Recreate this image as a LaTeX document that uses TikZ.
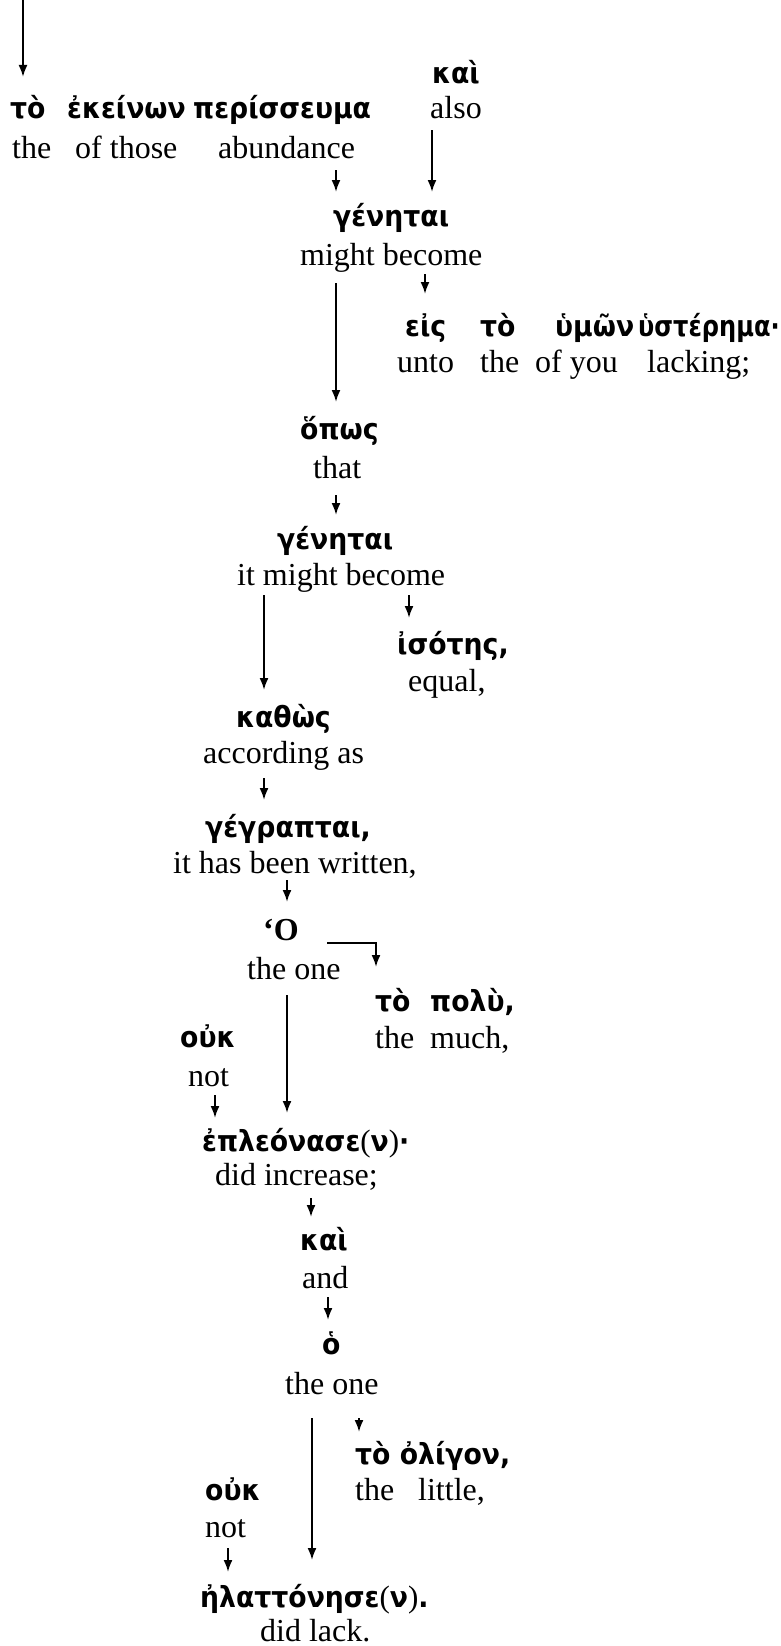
\documentclass[tikz,border=0pt]{standalone}
\usepackage{fontspec}
\setmainfont{Liberation Serif}
\newfontfamily\grfont{DejaVu Sans}[FakeStretch=0.92]
\newfontfamily\grfontn{DejaVu Sans}[FakeStretch=0.83]
\usetikzlibrary{arrows.meta}
\newcommand{\myparen}[1]{\textnormal{\fontsize{31}{36}\selectfont #1}}
\tikzset{
 en/.style={anchor=base west, inner sep=0pt, font=\fontsize{32}{38}\selectfont},
 gr/.style={anchor=base west, inner sep=0pt, font=\grfont\bfseries\fontsize{29}{34}\selectfont},
 grn/.style={anchor=base west, inner sep=0pt, font=\grfontn\bfseries\fontsize{29}{34}\selectfont},
 grO/.style={anchor=base west, inner sep=0pt, font=\bfseries\fontsize{32}{38}\selectfont},
 arr/.style={line width=2pt, -{Latex[length=12pt,width=9pt]}},
}
\begin{document}
\begin{tikzpicture}[x=1pt,y=-1pt]
\useasboundingbox (0,0) rectangle (781,1646);
\fill[white] (0,0) rectangle (781,1646);
\coordinate (top) at (23,0);
\node[gr] (gTo1) at (10,118) {τὸ};
\node[gr] (gEkeinon) at (67,118) {ἐκείνων};
\node[gr] (gPeris) at (193,118) {περίσσευμα};
\node[gr] (gKai1) at (432,83) {καὶ};
\node[en] (eAlso) at (430,118) {also};
\node[en] (eThe1) at (12,158) {the};
\node[en] (eOfThose) at (75,158) {of those};
\node[en] (eAbund) at (218,158) {abundance};
\node[gr] (gGen1) at (333,226) {γένηται};
\node[en] (eMight1) at (300,265) {might become};
\node[gr] (gEis) at (405,336) {εἰς};
\node[gr] (gTo3) at (480,336) {τὸ};
\node[gr] (gHymon) at (555,336) {ὑμῶν};
\node[grn] (gHyster) at (638,336) {ὑστέρημα·};
\node[en] (eUnto) at (397,372) {unto};
\node[en] (eThe2) at (480,372) {the};
\node[en] (eOfYou) at (535,372) {of you};
\node[en] (eLacking) at (647,372) {lacking;};
\node[gr] (gHopos) at (300,439) {ὅπως};
\node[en] (eThat) at (313,478) {that};
\node[gr] (gGen2) at (277,549) {γένηται};
\node[en] (eMight2) at (237,585) {it might become};
\node[gr] (gIsotes) at (397,654) {ἰσότης,};
\node[en] (eEqual) at (408,691) {equal,};
\node[gr] (gKathos) at (236,727) {καθὼς};
\node[en] (eAccording) at (203,763) {according as};
\node[gr] (gGegr) at (205,837) {γέγραπται,};
\node[en] (eWritten) at (173,873) {it has been written,};
\node[grO] (gHO) at (263,940) {‘Ο};
\node[en] (eTheOne1) at (247,979) {the one};
\node[gr] (gTo2) at (375,1011) {τὸ};
\node[gr] (gPolu) at (430,1011) {πολὺ,};
\node[en] (eThe3) at (375,1048) {the};
\node[en] (eMuch) at (430,1048) {much,};
\node[gr] (gOuk1) at (180,1047) {οὐκ};
\node[en] (eNot1) at (188,1086) {not};
\node[gr] (gEpl) at (202,1151) {ἐπλεόνασε\myparen{(}ν\myparen{)}·};
\node[en] (eIncrease) at (215,1185) {did increase;};
\node[gr] (gKai2) at (300,1250) {καὶ};
\node[en] (eAnd) at (302,1288) {and};
\node[gr] (gHo) at (322,1354) {ὁ};
\node[en] (eTheOne2) at (285,1394) {the one};
\node[gr] (gOligon) at (355,1464) {τὸ ὀλίγον,};
\node[en] (eThe4) at (355,1500) {the};
\node[en] (eLittle) at (418,1500) {little,};
\node[gr] (gOuk2) at (205,1500) {οὐκ};
\node[en] (eNot2) at (205,1537) {not};
\node[gr] (gElatt) at (200,1607) {ἠλαττόνησε\myparen{(}ν\myparen{)}.};
\node[en] (eLack) at (260,1641) {did lack.};
\draw[arr] (top) -- ([xshift=13pt,yshift=41pt]gTo1.base west);
\draw[arr] ([xshift=118pt,yshift=-12pt]eAbund.base west) -- ([xshift=3pt,yshift=34pt]gGen1.base west);
\draw[arr] ([xshift=2pt,yshift=-12pt]eAlso.base west) -- ([xshift=99pt,yshift=34pt]gGen1.base west);
\draw[arr] ([xshift=125pt,yshift=-9pt]eMight1.base west) -- ([xshift=20pt,yshift=42pt]gEis.base west);
\draw[arr] ([xshift=36pt,yshift=-18pt]eMight1.base west) -- ([xshift=36pt,yshift=37pt]gHopos.base west);
\draw[arr] ([xshift=23pt,yshift=-17pt]eThat.base west) -- ([xshift=59pt,yshift=34pt]gGen2.base west);
\draw[arr] ([xshift=27pt,yshift=-10pt]eMight2.base west) -- ([xshift=28pt,yshift=37pt]gKathos.base west);
\draw[arr] ([xshift=172pt,yshift=-10pt]eMight2.base west) -- ([xshift=12pt,yshift=36pt]gIsotes.base west);
\draw[arr] ([xshift=61pt,yshift=-15pt]eAccording.base west) -- ([xshift=59pt,yshift=37pt]gGegr.base west);
\draw[arr] ([xshift=114pt,yshift=-7pt]eWritten.base west) -- ([xshift=24pt,yshift=38pt]gHO.base west);
\draw[arr] ([xshift=64pt,yshift=-3pt]gHO.base west) -| ([xshift=1pt,yshift=44pt]gTo2.base west);
\draw[arr] ([xshift=40pt,yshift=-16pt]eTheOne1.base west) -- ([xshift=85pt,yshift=38pt]gEpl.base west);
\draw[arr] ([xshift=27pt,yshift=-9pt]eNot1.base west) -- ([xshift=13pt,yshift=33pt]gEpl.base west);
\draw[arr] ([xshift=96pt,yshift=-13pt]eIncrease.base west) -- ([xshift=11pt,yshift=33pt]gKai2.base west);
\draw[arr] ([xshift=26pt,yshift=-9pt]eAnd.base west) -- ([xshift=6pt,yshift=34pt]gHo.base west);
\draw[arr] ([xshift=27pt,yshift=-24pt]eTheOne2.base west) -- ([xshift=112pt,yshift=47pt]gElatt.base west);
\draw[arr] ([xshift=74pt,yshift=-24pt]eTheOne2.base west) -- ([xshift=4pt,yshift=32pt]gOligon.base west);
\draw[arr] ([xshift=23pt,yshift=-11pt]eNot2.base west) -- ([xshift=28pt,yshift=35pt]gElatt.base west);
\end{tikzpicture}
\end{document}
